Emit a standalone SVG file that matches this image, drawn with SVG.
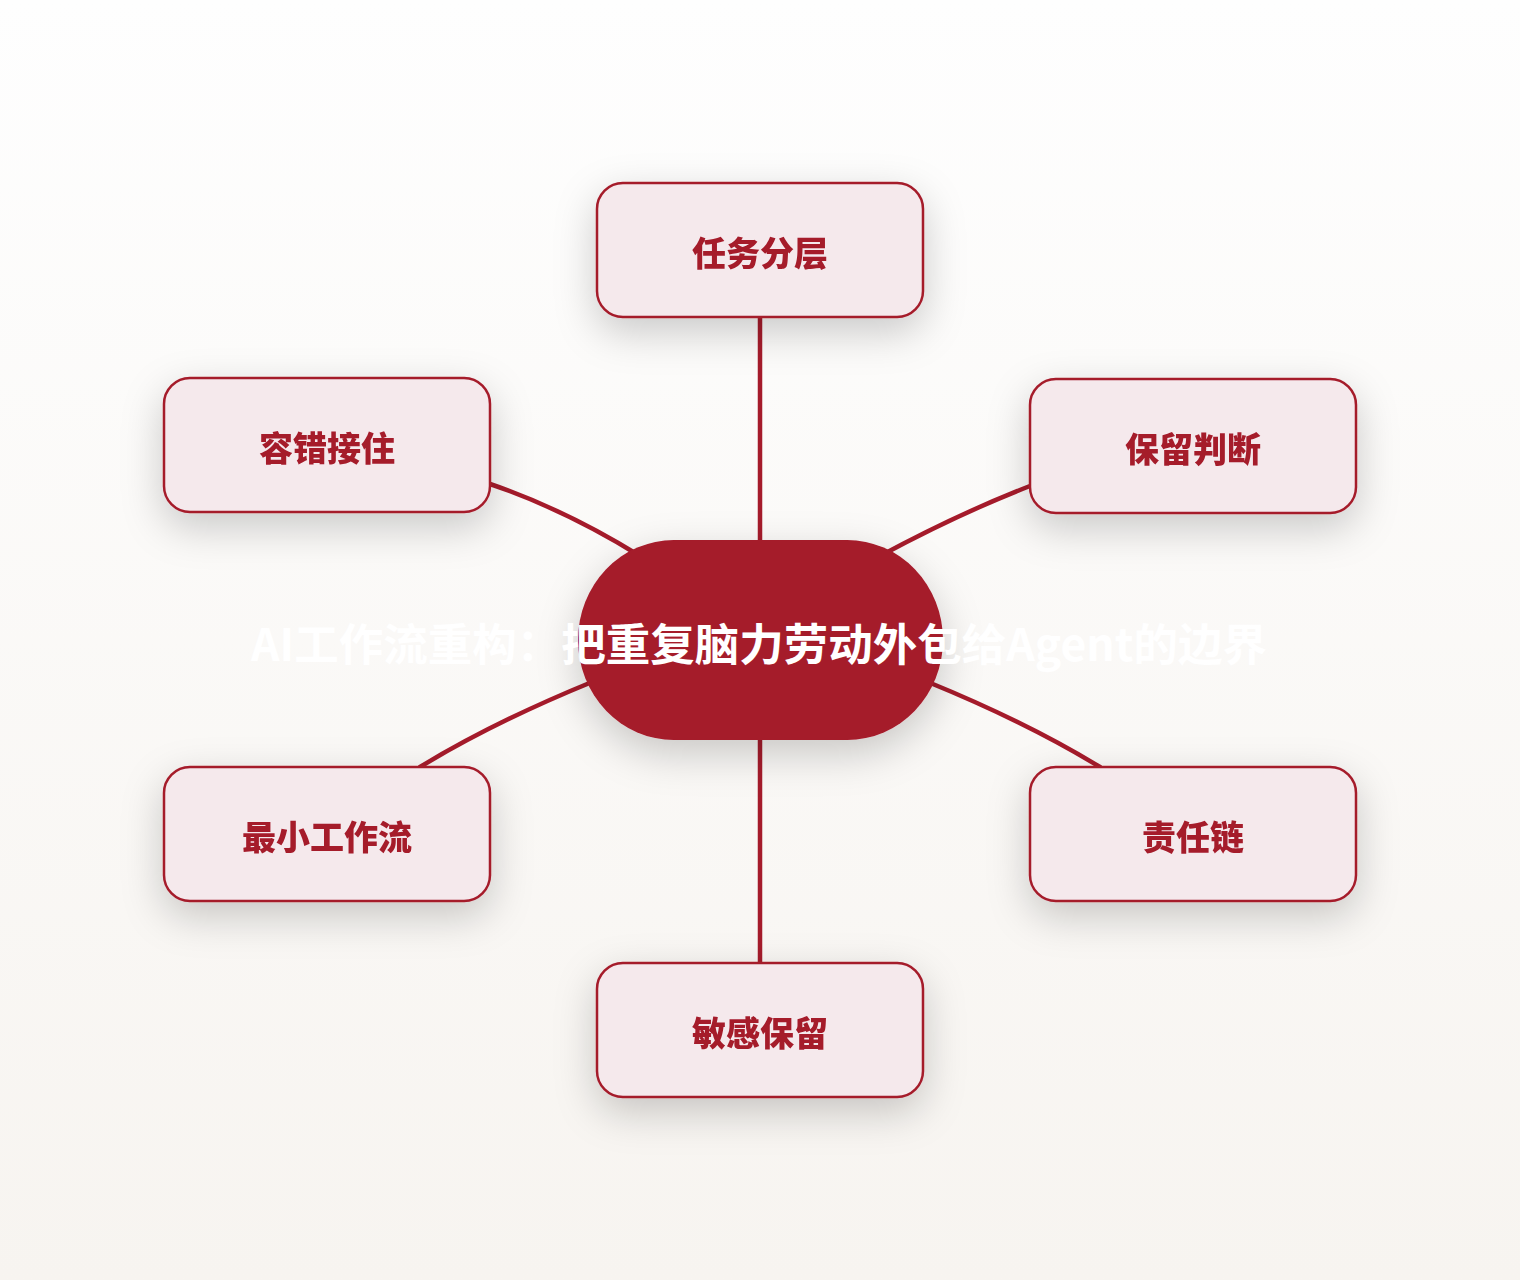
<svg xmlns="http://www.w3.org/2000/svg" width="1520" height="1280" viewBox="0 0 1520 1280">
  <defs>
    <linearGradient id="bg" x1="0" y1="0" x2="0" y2="1">
      <stop offset="0" stop-color="#fefefe"/>
      <stop offset="1" stop-color="#f7f4f0"/>
    </linearGradient>
    <filter id="shadow" x="-40%" y="-50%" width="180%" height="220%">
      <feDropShadow dx="0" dy="14" stdDeviation="20" flood-color="#000" flood-opacity="0.2"/>
    </filter>
    <style>
      .node rect { fill: #f5e9ec; stroke: #a51b2b; stroke-width: 2.5; }
      .node text { fill: #a51b2b; font-family: "Noto Sans CJK SC", "Noto Sans", sans-serif; font-weight: 900; font-size: 34px; text-anchor: middle; dominant-baseline: central; }
      .edge { fill: none; stroke: #a51b2b; stroke-width: 4.5; stroke-linecap: round; }
      .center rect { fill: #a51b2b; }
      .center text { fill: #ffffff; font-family: "Noto Sans CJK SC", "Noto Sans", sans-serif; font-weight: 700; font-size: 44.5px; text-anchor: middle; dominant-baseline: central; }
    </style>
  </defs>
  <rect width="1520" height="1280" fill="url(#bg)"/>

  <g id="connectors">
    <path class="edge" d="M760,317 L760,545"/>
    <path class="edge" d="M760,735 L760,963"/>
    <path class="edge" d="M490,484 Q566,510 640,556"/>
    <path class="edge" d="M1030,486 Q958,514 880,556"/>
    <path class="edge" d="M420,767 Q494,722 592,682"/>
    <path class="edge" d="M1100,767 Q1026,722 928,682"/>
  </g>

  <g id="node-top" class="node" filter="url(#shadow)">
    <rect x="597" y="183" width="326" height="134" rx="26"/>
    <text x="760" y="251">任务分层</text>
  </g>
  <g id="node-left-top" class="node" filter="url(#shadow)">
    <rect x="164" y="378" width="326" height="134" rx="26"/>
    <text x="327" y="446">容错接住</text>
  </g>
  <g id="node-right-top" class="node" filter="url(#shadow)">
    <rect x="1030" y="379" width="326" height="134" rx="26"/>
    <text x="1193" y="447">保留判断</text>
  </g>
  <g id="node-left-bottom" class="node" filter="url(#shadow)">
    <rect x="164" y="767" width="326" height="134" rx="26"/>
    <text x="327" y="835">最小工作流</text>
  </g>
  <g id="node-right-bottom" class="node" filter="url(#shadow)">
    <rect x="1030" y="767" width="326" height="134" rx="26"/>
    <text x="1193" y="835">责任链</text>
  </g>
  <g id="node-bottom" class="node" filter="url(#shadow)">
    <rect x="597" y="963" width="326" height="134" rx="26"/>
    <text x="760" y="1031">敏感保留</text>
  </g>

  <g id="node-center" class="center">
    <rect x="578" y="540" width="365" height="200" rx="96" ry="100" filter="url(#shadow)"/>
    <text x="759" y="641">AI工作流重构：把重复脑力劳动外包给Agent的边界</text>
  </g>
</svg>
